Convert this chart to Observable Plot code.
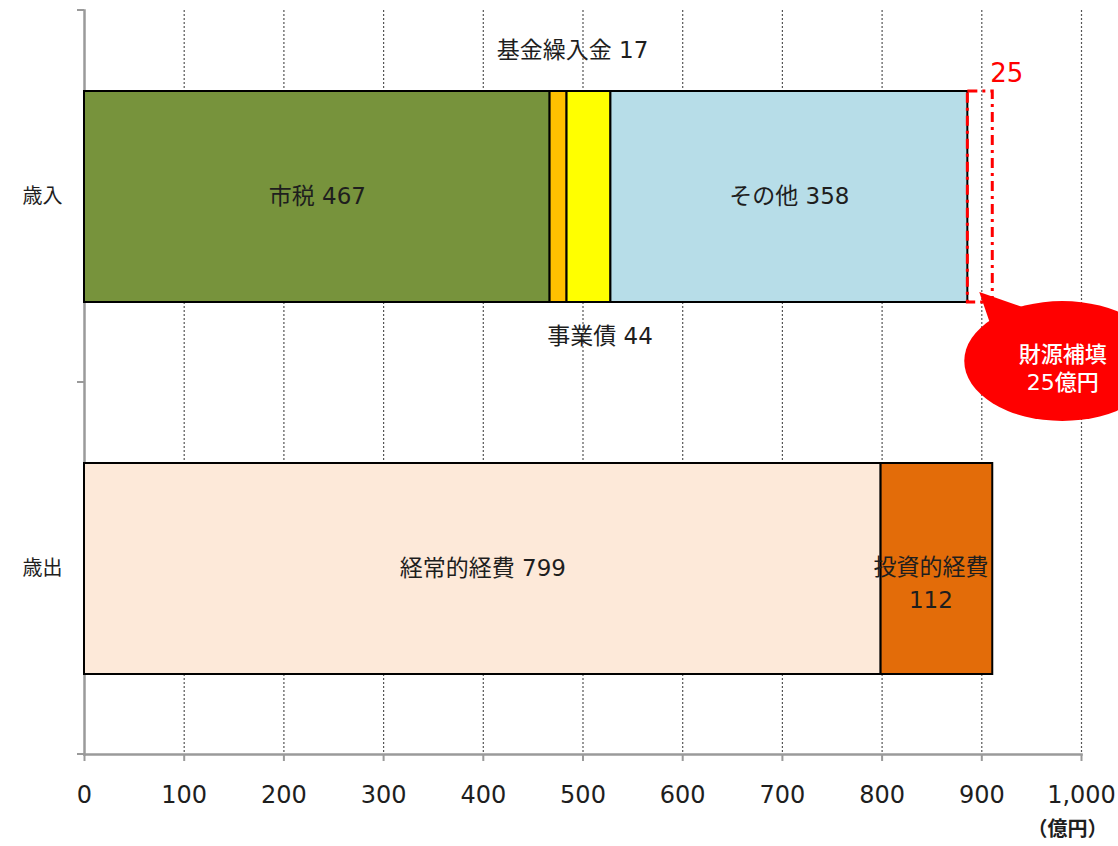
<!DOCTYPE html>
<html><head><meta charset="utf-8">
<script src="https://cdn.jsdelivr.net/npm/d3@7"></script>
<script src="https://cdn.jsdelivr.net/npm/@observablehq/plot@0.6"></script>
<style>
body{margin:0;background:#fff;}
#chart svg{display:block;}
</style></head>
<body><div id="chart"></div>
<script>
const categories = ["歳入", "歳出"];
const revItems = ["市税", "基金繰入金", "事業債", "その他"];
const revValues = [467, 17, 44, 358];
const revColors = ["#77933c", "#ffc000", "#ffff00", "#b7dde8"];
const expItems = ["経常的経費", "投資的経費"];
const expValues = [799, 112];
const expColors = ["#fde9d9", "#e36c09"];
const gapValue = 25;
const gapNote = ["財源補填", "25億円"];
const xTicks = [0, 100, 200, 300, 400, 500, 600, 700, 800, 900, 1000];
const unitLabel = "（億円）";

function buildRows(cat, items, values, colors) {
  const ends = d3.cumsum(values);
  return items.map((name, i) => ({
    cat, name, value: values[i], color: colors[i],
    x1: ends[i] - values[i], x2: ends[i]
  }));
}
const rev = buildRows(categories[0], revItems, revValues, revColors);
const exp = buildRows(categories[1], expItems, expValues, expColors);
const rows = rev.concat(exp);
const revTotal = d3.sum(revValues);
const gap = [{cat: categories[0], x1: revTotal, x2: revTotal + gapValue, value: gapValue}];

const inside = rows.filter(d => ["市税", "その他", "経常的経費"].includes(d.name));
const above = rows.filter(d => d.name === "基金繰入金");
const below = rows.filter(d => d.name === "事業債");
const twoLine = rows.filter(d => d.name === "投資的経費");

const textColor = "#1e1e1e";
const font = '"DejaVu Sans","Noto Sans CJK JP",sans-serif';

function yTicksMark(index, scales, values, dims) {
  const g = d3.create("svg:g").attr("stroke", "#9a9a9a").attr("stroke-width", 2);
  const x0 = scales.x(0);
  const top = dims.marginTop, bottom = dims.height - dims.marginBottom;
  [top, (top + bottom) / 2, bottom].forEach(y => {
    g.append("line").attr("x1", x0 - 7).attr("x2", x0).attr("y1", y).attr("y2", y);
  });
  return g.node();
}

function calloutMark(index, scales, values, dims) {
  const g = d3.create("svg:g");
  const xe = scales.x(revTotal + gapValue);
  const yb = scales.y(categories[0]) + scales.y.bandwidth();
  const cx = xe + 70, cy = yb + 59, rx = 98, ry = 60;
  g.append("ellipse").attr("cx", cx).attr("cy", cy).attr("rx", rx).attr("ry", ry).attr("fill", "#ff0000");
  g.append("path")
    .attr("d", `M${xe - 13},${yb - 10} L${xe + 33},${yb + 6} L${xe - 2},${yb + 22} Z`)
    .attr("fill", "#ff0000");
  return g.node();
}

const labelStyle = {fontSize: 23, fill: textColor, letterSpacing: 1.5};

const chart = Plot.plot({
  width: 1118,
  height: 846,
  marginLeft: 84,
  marginRight: 37,
  marginTop: 10,
  marginBottom: 92,
  style: {fontFamily: font, color: textColor, background: "#fff"},
  x: {domain: [0, 1000], axis: null},
  y: {domain: categories, paddingInner: 0.433, paddingOuter: 0.2165, axis: null},
  marks: [
    Plot.gridX(xTicks.slice(1), {stroke: "#555", strokeOpacity: 1, strokeWidth: 1.2, strokeDasharray: "2,2"}),
    Plot.frame({anchor: "left", stroke: "#9a9a9a", strokeWidth: 2.5}),
    Plot.frame({anchor: "bottom", stroke: "#9a9a9a", strokeWidth: 2.5}),
    yTicksMark,
    Plot.axisX({ticks: xTicks, tickFormat: d3.format(","), tickSize: 7, tickPadding: 24, fontSize: 24,
      stroke: "#9a9a9a", strokeWidth: 2, fill: textColor, label: null, letterSpacing: 1.5}),
    Plot.axisY({tickSize: 0, tickPadding: 22, fontSize: 20, fill: textColor, label: null}),
    Plot.barX(rows, {x1: "x1", x2: "x2", y: "cat", fill: "color", stroke: "#000", strokeWidth: 2}),
    Plot.barX(gap, {x1: "x1", x2: "x2", y: "cat", fill: "none", stroke: "#ff0000", strokeWidth: 3, strokeDasharray: "10,5,3,5"}),
    calloutMark,
    Plot.text(gap, {x: "x2", y: "cat", text: d => String(d.value), fill: "#ff0000", fontSize: 26, dx: 14, dy: -123}),
    Plot.text([gapNote.join("\n")], {x: revTotal + gapValue, y: () => categories[0], text: d => d, fill: "#fff",
      fontSize: 22, fontWeight: 500, letterSpacing: 1.5, lineHeight: 1.25, dx: 70, dy: 170}),
    Plot.text(inside, {x: d => (d.x1 + d.x2) / 2, y: "cat", text: d => `${d.name} ${d.value}`, ...labelStyle}),
    Plot.text(twoLine, {x: d => (d.x1 + d.x2) / 2, y: "cat", text: d => `${d.name}\n${d.value}`, ...labelStyle,
      lineHeight: 1.45, dx: -6, dy: 12}),
    Plot.text(above, {x: d => (d.x1 + d.x2) / 2, y: "cat", text: d => `${d.name} ${d.value}`, ...labelStyle, dx: 14, dy: -146}),
    Plot.text(below, {x: d => (d.x1 + d.x2) / 2, y: "cat", text: d => `${d.name} ${d.value}`, ...labelStyle, dx: 11, dy: 140}),
    Plot.text([unitLabel], {frameAnchor: "bottom-right", text: d => d, fontSize: 20, fontWeight: "bold", fill: textColor,
      textAnchor: "end", dx: 26, dy: 81})
  ]
});
document.getElementById("chart").appendChild(chart);
</script>
</body></html>
